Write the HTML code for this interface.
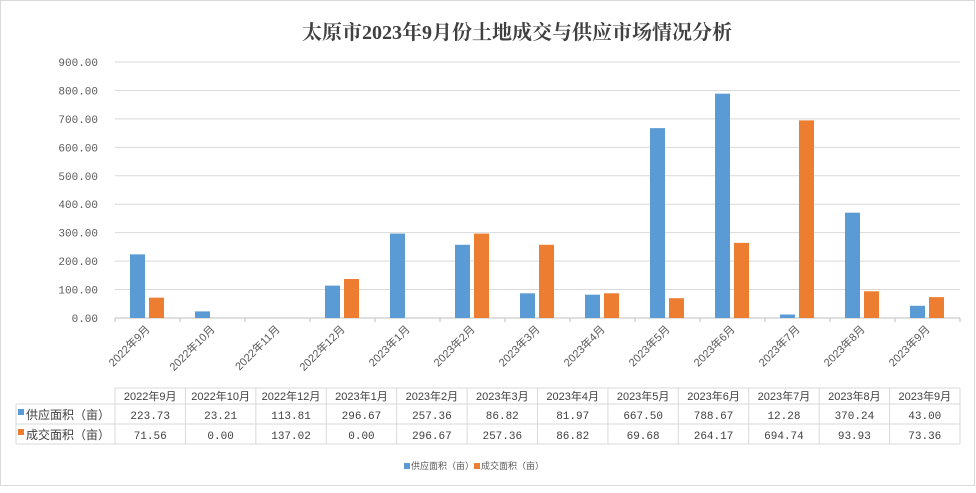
<!DOCTYPE html>
<html><head><meta charset="utf-8"><style>
body{margin:0;background:#fff;}
svg text{font-family:"Liberation Sans","Noto Sans CJK SC",sans-serif;}
</style></head><body>
<svg id="chart" width="976" height="488" xmlns="http://www.w3.org/2000/svg">
<rect x="0.5" y="0.5" width="974" height="485" fill="#fff" stroke="#d9d9d9"/>
<text x="517" y="39" text-anchor="middle" font-size="20" font-weight="bold" fill="#404040" style="font-family:'Liberation Serif','Noto Serif CJK SC',serif">太原市2023年9月份土地成交与供应市场情况分析</text>
<g id="grid"></g><g id="bars"></g><g id="xlabels"></g><g id="table"></g>
<g>
<rect x="404" y="463" width="6" height="6" fill="#5b9bd5"/>
<text x="411" y="469" font-size="9" fill="#595959">供应面积（亩）</text>
<rect x="474" y="463" width="6" height="6" fill="#ed7d31"/>
<text x="481" y="469" font-size="9" fill="#595959">成交面积（亩）</text>
</g>
</svg>
<script>
const categories=["2022年9月","2022年10月","2022年11月","2022年12月","2023年1月","2023年2月","2023年3月","2023年4月","2023年5月","2023年6月","2023年7月","2023年8月","2023年9月"];
const supply=[223.73,23.21,null,113.81,296.67,257.36,86.82,81.97,667.50,788.67,12.28,370.24,43.00];
const deal=[71.56,0,null,137.02,0,296.67,257.36,86.82,69.68,264.17,694.74,93.93,73.36];
const yTicks=[0,100,200,300,400,500,600,700,800,900];
const NS="http://www.w3.org/2000/svg";
const x0=115,x1=960,yb=318,yt=62,ymax=900;
const cw=(x1-x0)/categories.length;
const y=v=>yb-(v/ymax)*(yb-yt);
const cx=i=>x0+cw*(i+0.5);
function mk(tag,attrs,parent,txt){const e=document.createElementNS(NS,tag);for(const k in attrs)e.setAttribute(k,attrs[k]);if(txt!==undefined)e.textContent=txt;parent.appendChild(e);return e;}
const grid=document.getElementById('grid');
yTicks.forEach(t=>{
 const l=mk('line',{x1:x0,x2:x1,y1:y(t),y2:y(t),stroke:t===0?'#bfbfbf':'#d9d9d9'},grid);
 
 
 const tx=mk('text',{x:98,y:y(t)+4,'text-anchor':'end','font-size':11,fill:'#595959',style:"font-family:'Liberation Mono',monospace"},grid,t.toFixed(2));
 
 
});
for(let i=0;i<=categories.length;i++){
 const l=mk('line',{x1:x0+cw*i,x2:x0+cw*i,y1:yb,y2:yb+4,stroke:'#bfbfbf'},grid);
 
 
}
const bars=document.getElementById('bars');
const xl=document.getElementById('xlabels');
categories.forEach((c,i)=>{
 if(supply[i]!=null){const r=mk('rect',{x:cx(i)-17.5,y:y(supply[i]),width:15,height:yb-y(supply[i]),fill:'#5b9bd5'},bars);
 
 }
 if(deal[i]!=null){const r=mk('rect',{x:cx(i)+1.5,y:y(deal[i]),width:15,height:yb-y(deal[i]),fill:'#ed7d31'},bars);
 
 }
 const t=mk('text',{x:cx(i)+3,y:yb+12,'text-anchor':'end','font-size':11,fill:'#595959',transform:`rotate(-45 ${cx(i)+3} ${yb+12})`},xl,c);
 
 
});
// table
const tb=document.getElementById('table');
const tcols=categories.map((c,i)=>i).filter(i=>supply[i]!=null);
const tw=(x1-x0)/tcols.length;
const rows=[388,404,424,444];
const st='#d9d9d9';
mk('line',{x1:x0,x2:x1,y1:rows[0],y2:rows[0],stroke:st},tb);
[1,2,3].forEach(r=>mk('line',{x1:16,x2:x1,y1:rows[r],y2:rows[r],stroke:st},tb));
mk('line',{x1:16,x2:16,y1:rows[1],y2:rows[3],stroke:st},tb);
for(let j=0;j<=tcols.length;j++)mk('line',{x1:x0+tw*j,x2:x0+tw*j,y1:rows[0],y2:rows[3],stroke:st},tb);
mk('rect',{x:18,y:409,width:6,height:6,fill:'#5b9bd5'},tb);
mk('text',{x:26,y:419,'font-size':12,fill:'#404040'},tb,'供应面积（亩）');
mk('rect',{x:18,y:429,width:6,height:6,fill:'#ed7d31'},tb);
mk('text',{x:26,y:439,'font-size':12,fill:'#404040'},tb,'成交面积（亩）');
tcols.forEach((ci,j)=>{
 const mx=x0+tw*(j+0.5);
 const h=mk('text',{x:mx,y:400,'text-anchor':'middle','font-size':11,fill:'#404040'},tb,categories[ci]);
 
 
 const a=mk('text',{x:mx,y:419,'text-anchor':'middle','font-size':11,fill:'#404040',style:"font-family:'Liberation Mono',monospace"},tb,supply[ci].toFixed(2));
 
 
 const b=mk('text',{x:mx,y:439,'text-anchor':'middle','font-size':11,fill:'#404040',style:"font-family:'Liberation Mono',monospace"},tb,deal[ci].toFixed(2));
 
 
});
</script>
</body></html>
